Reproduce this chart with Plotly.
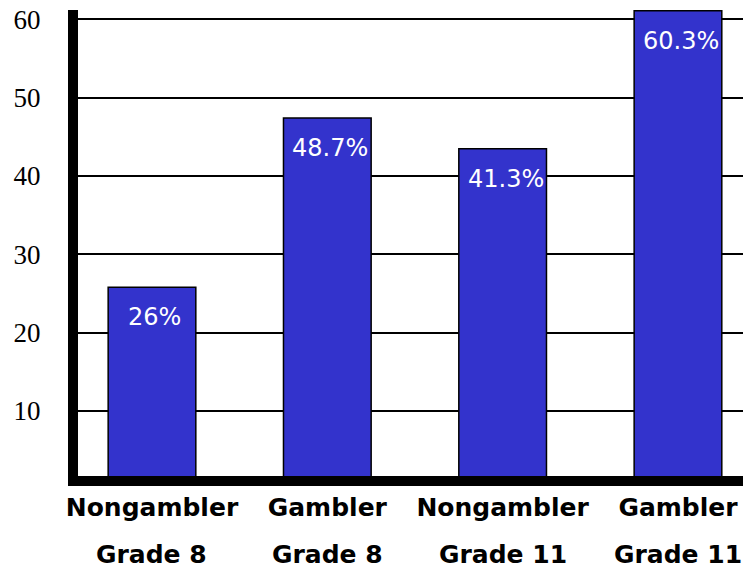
import plotly.graph_objects as go

# Data
groups = ["Nongambler", "Gambler", "Nongambler", "Gambler"]
grades = ["Grade 8", "Grade 8", "Grade 11", "Grade 11"]
categories = ["Nongambler Grade 8", "Gambler Grade 8", "Nongambler Grade 11", "Gambler Grade 11"]
bar_heights = [25.8, 47.4, 43.5, 61.1]          # heights as drawn against the axis
bar_labels = ["26%", "48.7%", "41.3%", "60.3%"]  # labels printed on the bars
y_ticks = [10, 20, 30, 40, 50, 60]

BAR_COLOR = "#3333cc"

fig = go.Figure()
fig.add_trace(go.Bar(
    x=categories,
    y=bar_heights,
    width=0.5,
    marker=dict(color=BAR_COLOR, line=dict(color="black", width=1.5)),
    hoverinfo="skip",
))

annotations = []
for cat, h, lab in zip(categories, bar_heights, bar_labels):
    annotations.append(dict(
        x=cat, y=h, xref="x", yref="y", text=lab, showarrow=False,
        yanchor="top", yshift=-14, xshift=3,
        font=dict(family="DejaVu Sans", size=24, color="white"),
    ))
for cat, g in zip(categories, grades):
    annotations.append(dict(
        x=cat, y=0, xref="x", yref="paper", text=g, showarrow=False,
        yanchor="top", yshift=-62,
        font=dict(family="DejaVu Sans", size=25, color="black", weight="bold"),
    ))

# the page body adds an 8px margin, so the figure is sized and placed to compensate
fig.update_layout(
    width=743, height=566,
    margin=dict(l=70, r=5, t=2, b=98),
    paper_bgcolor="white", plot_bgcolor="white",
    showlegend=False,
    annotations=annotations,
    xaxis=dict(
        type="category",
        automargin=False,
        range=[-0.422, 3.388],
        tickvals=categories,
        ticktext=groups,
        tickfont=dict(family="DejaVu Sans", size=25, color="black", weight="bold"),
        showline=True, linecolor="black", linewidth=10,
        showgrid=False, zeroline=False,
        ticks="",
    ),
    yaxis=dict(
        automargin=False,
        range=[1.7, 61.2],
        tickvals=y_ticks,
        ticklabeloverflow="allow",
        tickfont=dict(family="Liberation Serif", size=27, color="black"),
        showline=True, linecolor="black", linewidth=10,
        showgrid=True, gridcolor="black", gridwidth=1.5,
        zeroline=False,
        ticks="outside", ticklen=22, tickcolor="rgba(0,0,0,0)",
    ),
)

fig.write_html("out.html")
